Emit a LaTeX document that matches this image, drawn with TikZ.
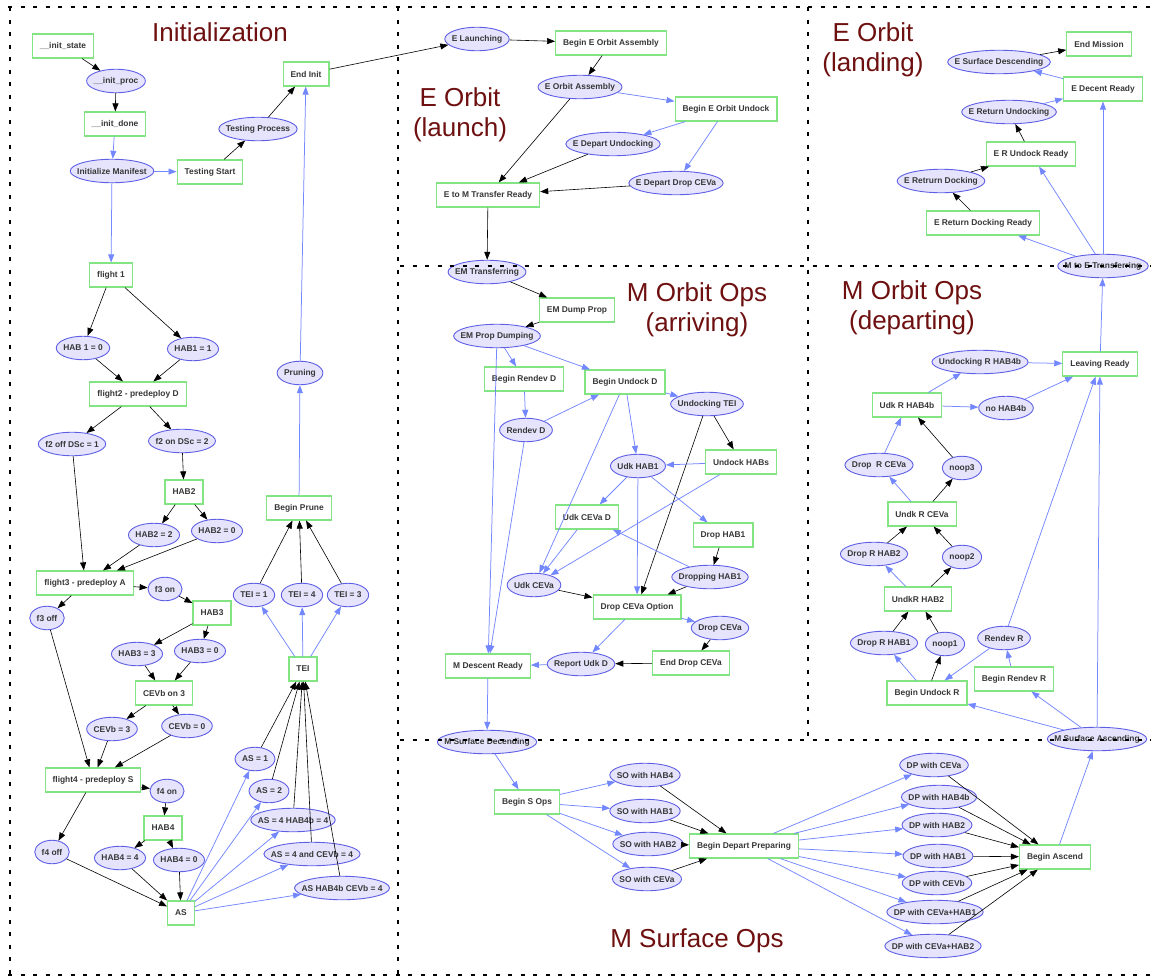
\documentclass[tikz,border=0pt]{standalone}
\usepackage{fontspec}
\setmainfont{Liberation Sans}
\usepackage{tikz}
\usetikzlibrary{shapes,arrows.meta,positioning}
\definecolor{boxline}{RGB}{130,228,130}
\definecolor{elline}{RGB}{95,95,230}
\definecolor{elfill}{RGB}{230,228,252}
\definecolor{edgeblue}{RGB}{115,135,255}
\definecolor{txtgray}{RGB}{55,55,55}
\definecolor{titlered}{RGB}{110,16,16}
\newbox\ellbox
\tikzset{
    every node/.style={font=\fontsize{8.4}{10}\selectfont\bfseries, text=txtgray},
    state/.style={ellipse, draw=elline, fill=elfill, line width=0.9pt, inner sep=0pt, minimum height=23.5pt,
        execute at begin node={\setbox\ellbox=\hbox\bgroup},
        execute at end node={\egroup\hbox to \dimexpr0.7071\wd\ellbox+9.9pt\relax{\hss\box\ellbox\hss}}},
    stage/.style={rectangle, draw=boxline, fill=white, line width=1.2pt, inner xsep=7.5pt, inner ysep=0pt, minimum height=24pt},
    bk/.style={-{Triangle[length=8pt,width=6pt]}, color=black, line width=0.6pt},
    bl/.style={-{Triangle[length=8pt,width=6pt]}, color=edgeblue, line width=0.75pt},
    region/.style={draw=black, line width=2.2pt, dash pattern=on 4pt off 8.5pt},
    title/.style={font=\fontsize{26}{30}\selectfont, text=titlered, align=center}
}
\begin{document}
\begin{tikzpicture}[x=1pt, y=-1pt]
    \useasboundingbox (0,0) rectangle (1151,977);
    \fill[white] (0,0) rectangle (1151,977);

    % titles
    \node[title, anchor=base] (tinit) at (220,41) {Initialization};
    \node[title] (tlaunch) at (460,115) {E Orbit\\(launch)};
    \node[title] (tlanding) at (873,50) {E Orbit\\(landing)};
    \node[title] (tarriving) at (697,310) {M Orbit Ops\\(arriving)};
    \node[title] (tdeparting) at (912,308) {M Orbit Ops\\(departing)};
    \node[title, anchor=base] (tsurface) at (697,947) {M Surface Ops};

    % Initialization
    \node[stage] (initstate) at (63,46) {\_\_init\_state};
    \node[state] (initproc) at (116,81) {\_\_init\_proc};
    \node[stage] (initdone) at (115,124) {\_\_init\_done};
    \node[state] (initman) at (112,171) {Initialize Manifest};
    \node[stage] (teststart) at (210,172) {Testing Start};
    \node[state] (testproc) at (258,129) {Testing Process};
    \node[stage] (endinit) at (306,74) {End Init};
    \node[stage] (flight1) at (111,275) {flight 1};
    \node[state] (hab1z) at (83,348) {HAB 1 = 0};
    \node[state] (hab1o) at (193,349) {HAB1 = 1};
    \node[stage] (flight2) at (138,394) {flight2 - predeploy D};
    \node[state] (f2off) at (72,444) {f2 off DSc = 1};
    \node[state] (f2on) at (182,441) {f2 on DSc = 2};
    \node[stage] (hab2) at (184,492) {HAB2};
    \node[state] (hab2t) at (154,535) {HAB2 = 2};
    \node[state] (hab2z) at (217,531) {HAB2 = 0};
    \node[stage] (flight3) at (85,583) {flight3 - predeploy A};
    \node[state] (f3on) at (165,589) {f3 on};
    \node[state] (f3off) at (47,618) {f3 off};
    \node[stage] (hab3) at (212,613) {HAB3};
    \node[state] (hab3t) at (137,654) {HAB3 = 3};
    \node[state] (hab3z) at (200,651) {HAB3 = 0};
    \node[stage] (cevbon) at (164,693) {CEVb on 3};
    \node[state] (cevbt) at (112,729) {CEVb = 3};
    \node[state] (cevbz) at (187,726) {CEVb = 0};
    \node[stage] (flight4) at (93,780) {flight4 - predeploy S};
    \node[state] (f4on) at (167,791) {f4 on};
    \node[stage] (hab4) at (163,828) {HAB4};
    \node[state] (f4off) at (52,852) {f4 off};
    \node[state] (hab4f) at (120,858) {HAB4 = 4};
    \node[state] (hab4z) at (179,860) {HAB4 = 0};
    \node[stage] (as) at (181,913) {AS};
    \node[state] (as1) at (255,759) {AS = 1};
    \node[state] (as2) at (269,791) {AS = 2};
    \node[state] (as4h) at (293,820) {AS = 4 HAB4b = 4};
    \node[state] (as4c) at (312,854) {AS = 4 and CEVb = 4};
    \node[state] (ashc) at (342,888) {AS HAB4b CEVb = 4};
    \node[stage] (tei) at (303,669) {TEI};
    \node[state] (tei1) at (254,595) {TEI = 1};
    \node[state] (tei4) at (302,595) {TEI = 4};
    \node[state] (tei3) at (348,595) {TEI = 3};
    \node[stage] (bprune) at (299,508) {Begin Prune};
    \node[state] (pruning) at (300,373) {Pruning};

    % E Orbit (launch)
    \node[state] (elaunch) at (477,39) {E Launching};
    \node[stage] (beoa) at (611,43) {Begin E Orbit Assembly};
    \node[state] (eoa) at (580,87) {E Orbit Assembly};
    \node[stage] (beou) at (726,109) {Begin E Orbit Undock};
    \node[state] (edu) at (613,144) {E Depart Undocking};
    \node[state] (eddc) at (676,183) {E Depart Drop CEVa};
    \node[stage] (etom) at (488,195) {E to M Transfer Ready};
    \node[state] (emtrans) at (487,272) {EM Transferring};

    % E Orbit (landing)
    \node[stage] (endmission) at (1099,44) {End Mission};
    \node[state] (esd) at (999,62) {E Surface Descending};
    \node[stage] (edr) at (1103,89) {E Decent Ready};
    \node[state] (eru) at (1009,112) {E Return Undocking};
    \node[stage] (erur) at (1031,154) {E R Undock Ready};
    \node[state] (erd) at (941,181) {E Retrurn Docking};
    \node[stage] (erdr) at (983,223) {E Return Docking Ready};
    \node[state] (mtoe) at (1103,266) {M to E Transferring};

    % M Orbit Ops (arriving)
    \node[stage] (emdump) at (577,310) {EM Dump Prop};
    \node[state] (empd) at (497,336) {EM Prop Dumping};
    \node[stage] (brd) at (524,379) {Begin Rendev D};
    \node[stage] (bud) at (625,382) {Begin Undock D};
    \node[state] (utei) at (707,404) {Undocking TEI};
    \node[state] (rd) at (526,430) {Rendev D};
    \node[state] (udkhab) at (638,466) {Udk HAB1};
    \node[stage] (uhabs) at (741,462) {Undock HABs};
    \node[stage] (ucevad) at (587,517) {Udk CEVa D};
    \node[stage] (drophab) at (723,535) {Drop HAB1};
    \node[state] (dhab) at (710,577) {Dropping HAB1};
    \node[state] (udkceva) at (534,585) {Udk CEVa};
    \node[stage] (dcopt) at (637,607) {Drop CEVa Option};
    \node[state] (dceva) at (720,628) {Drop CEVa};
    \node[stage] (edc) at (691,663) {End Drop CEVa};
    \node[state] (rud) at (581,664) {Report Udk D};
    \node[stage] (mdr) at (488,666) {M Descent Ready};
    \node[state] (msd) at (487,742) {M Surface Decending};

    % M Orbit Ops (departing)
    \node[stage] (lready) at (1100,364) {Leaving Ready};
    \node[state] (urhab) at (980,362) {Undocking R HAB4b};
    \node[stage] (udkr) at (907,405) {Udk R HAB4b};
    \node[state] (nohab) at (1006,408) {no HAB4b};
    \node[state] (drceva) at (879,465) {Drop~ R CEVa};
    \node[state] (noop3) at (962,468) {noop3};
    \node[stage] (undkceva) at (922,514) {Undk R CEVa};
    \node[state] (drhab2) at (874,554) {Drop R HAB2};
    \node[state] (noop2) at (962,557) {noop2};
    \node[stage] (undkhab) at (918,599) {UndkR HAB2};
    \node[state] (drhab1) at (884,643) {Drop R HAB1};
    \node[state] (noop1) at (945,644) {noop1};
    \node[state] (rr) at (1004,638) {Rendev R};
    \node[stage] (brr) at (1014,679) {Begin Rendev R};
    \node[stage] (bur) at (927,693) {Begin Undock R};
    \node[state] (msa) at (1097,739) {M Surface Ascending};

    % M Surface Ops
    \node[stage] (bso) at (527,802) {Begin S Ops};
    \node[state] (so4) at (645,775) {SO with HAB4};
    \node[state] (so1) at (645,811) {SO with HAB1};
    \node[state] (so2) at (648,844) {SO with HAB2};
    \node[state] (soc) at (647,879) {SO with CEVa};
    \node[stage] (bdp) at (744,846) {Begin Depart Preparing};
    \node[state] (dpceva) at (934,765) {DP with CEVa};
    \node[state] (dphabb) at (939,797) {DP with HAB4b};
    \node[state] (dphab2) at (937,825) {DP with HAB2};
    \node[state] (dphab1) at (938,856) {DP with HAB1};
    \node[state] (dpcevb) at (937,883) {DP with CEVb};
    \node[state] (dpch1) at (935,912) {DP with CEVa+HAB1};
    \node[state] (dpch2) at (933,946) {DP with CEVa+HAB2};
    \node[stage] (bascend) at (1055,857) {Begin Ascend};

    % Initialization edges
    \path[bk] (initstate) edge (initproc)
              (initproc) edge (initdone)
              (teststart) edge (testproc)
              (testproc) edge (endinit)
              (endinit) edge (elaunch)
              (flight1) edge (hab1z)
              (flight1) edge (hab1o)
              (hab1z) edge (flight2)
              (hab1o) edge (flight2)
              (flight2) edge (f2off)
              (flight2) edge (f2on)
              (f2on) edge (hab2)
              (hab2) edge (hab2t)
              (hab2) edge (hab2z)
              (f2off) edge (flight3)
              (hab2t) edge (flight3)
              (hab2z) edge (flight3)
              (flight3) edge (f3on)
              (flight3) edge (f3off)
              (f3on) edge (hab3)
              (hab3) edge (hab3t)
              (hab3) edge (hab3z)
              (hab3t) edge (cevbon)
              (hab3z) edge (cevbon)
              (cevbon) edge (cevbt)
              (cevbon) edge (cevbz)
              (f3off) edge (flight4)
              (cevbt) edge (flight4)
              (cevbz) edge (flight4)
              (flight4) edge (f4on)
              (flight4) edge (f4off)
              (f4on) edge (hab4)
              (hab4) edge (hab4f)
              (hab4) edge (hab4z)
              (f4off) edge (as)
              (hab4f) edge (as)
              (hab4z) edge (as)
              (as1) edge (tei)
              (as2) edge (tei)
              (as4h) edge (tei)
              (as4c) edge (tei)
              (ashc) edge (tei)
              (tei1) edge (bprune)
              (tei4) edge (bprune)
              (tei3) edge (bprune);
    \path[bl] (initdone) edge (initman)
              (initman) edge (teststart)
              (initman) edge (flight1)
              (as) edge (as1)
              (as) edge (as2)
              (as) edge (as4h)
              (as) edge (as4c)
              (as) edge (ashc)
              (tei) edge (tei1)
              (tei) edge (tei4)
              (tei) edge (tei3)
              (bprune) edge (pruning)
              (pruning) edge (endinit);

    % E Orbit edges
    \path[bk] (elaunch) edge (beoa)
              (beoa) edge (eoa)
              (eoa) edge (etom)
              (edu) edge (etom)
              (eddc) edge (etom)
              (etom) edge (emtrans)
              (erdr) edge (erd)
              (erd) edge (erur)
              (erur) edge (eru)
              (esd) edge (endmission);
    \path[bl] (eoa) edge (beou)
              (beou) edge (edu)
              (beou) edge (eddc)
              (mtoe) edge (erdr)
              (mtoe) edge (erur)
              (mtoe) edge (edr)
              (eru) edge (edr)
              (edr) edge (esd);

    % M Orbit Ops (arriving) edges
    \path[bk] (emtrans) edge (emdump)
              (emdump) edge (empd)
              (utei) edge (uhabs)
              (utei) edge (dcopt)
              (drophab) edge (dhab)
              (dhab) edge (dcopt)
              (udkceva) edge (dcopt)
              (dceva) edge (edc)
              (edc) edge (rud);
    \path[bl] (empd) edge (brd)
              (empd) edge (bud)
              (empd) edge (mdr)
              (brd) edge (rd)
              (rd) edge (bud)
              (rd) edge (mdr)
              (bud) edge (utei)
              (bud) edge (udkhab)
              (bud) edge (udkceva)
              (uhabs) edge (udkhab)
              (uhabs) edge (udkceva)
              (udkhab) edge (ucevad)
              (udkhab) edge (drophab)
              (udkhab) edge (dcopt)
              (ucevad) edge (udkceva)
              (dhab) edge (ucevad)
              (dcopt) edge (dceva)
              (dcopt) edge (rud)
              (rud) edge (mdr)
              (mdr) edge (msd);

    % M Orbit Ops (departing) edges
    \path[bk] (bur) edge (noop1)
              (drhab1) edge (undkhab)
              (noop1) edge (undkhab)
              (undkhab) edge (noop2)
              (drhab2) edge (undkceva)
              (noop2) edge (undkceva)
              (undkceva) edge (noop3)
              (noop3) edge (udkr);
    \path[bl] (msa) edge (bur)
              (msa) edge (brr)
              (msa) edge (lready)
              (brr) edge (rr)
              (rr) edge (bur)
              (rr) edge (lready)
              (bur) edge (drhab1)
              (undkhab) edge (drhab2)
              (undkceva) edge (drceva)
              (drceva) edge (udkr)
              (udkr) edge (urhab)
              (udkr) edge (nohab)
              (urhab) edge (lready)
              (nohab) edge (lready)
              (lready) edge (mtoe);

    % M Surface Ops edges
    \path[bl] (msd) edge (bso)
              (bso) edge (so4)
              (bso) edge (so1)
              (bso) edge (so2)
              (bso) edge (soc)
              (bdp) edge (dpceva)
              (bdp) edge (dphabb)
              (bdp) edge (dphab2)
              (bdp) edge (dphab1)
              (bdp) edge (dpcevb)
              (bdp) edge (dpch1)
              (bdp) edge (dpch2)
              (bascend) edge (msa);
    \path[bk] (so4) edge (bdp)
              (so1) edge (bdp)
              (so2) edge (bdp)
              (soc) edge (bdp)
              (dpceva) edge (bascend)
              (dphabb) edge (bascend)
              (dphab2) edge (bascend)
              (dphab1) edge (bascend)
              (dpcevb) edge (bascend)
              (dpch1) edge (bascend)
              (dpch2) edge (bascend);

    % region borders
    \draw[region] (8,7) -- (1151,7);
    \draw[region] (10,7) -- (10,975);
    \draw[region] (8,975) -- (1151,975);
    \draw[region] (398,7) -- (398,977);
    \draw[region] (808,7) -- (808,740);
    \draw[region] (400,266) -- (1151,266);
    \draw[region] (400,740) -- (1151,740);
\end{tikzpicture}
\end{document}
